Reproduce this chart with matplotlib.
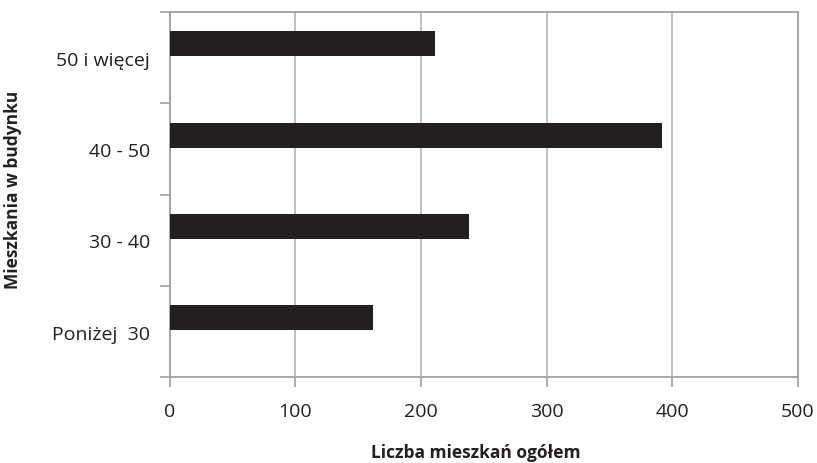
import numpy as np
from matplotlib import pyplot as plt
from matplotlib.ticker import FixedLocator

categories = ['Poniżej  30', '30 - 40', '40 - 50', '50 i więcej']
values = [162, 238, 392, 211]
x_ticks = [0, 100, 200, 300, 400, 500]

plt.rcParams['font.family'] = ['Open Sans', 'DejaVu Sans']

fig = plt.figure(figsize=(8.17, 4.64), dpi=100)
ax = fig.add_axes([0.2075, 0.185, 0.7693, 0.787])

pos = np.arange(len(categories))
# bars sit a little above the middle of each band, like the original
ax.barh(pos + 0.15, values, height=0.275, color='#231f20', zorder=3)

ax.set_xlim(0, 500)
ax.set_ylim(-0.5, len(categories) - 0.5)
ax.set_xticks(x_ticks)
ax.set_yticks(pos)
ax.set_yticklabels(categories)
ax.yaxis.set_minor_locator(FixedLocator(np.arange(-0.5, len(categories), 1.0)))

grid_col = '#b4b4b4'
axis_col = '#a0a0a0'
ax.grid(axis='x', color=grid_col, linewidth=1.2, zorder=0)
for side in ['left', 'bottom', 'top', 'right']:
    ax.spines[side].set_color(axis_col)
    ax.spines[side].set_linewidth(1.3)

ax.tick_params(axis='y', which='major', length=0, pad=14, labelsize=14, labelcolor='#231f20')
ax.tick_params(axis='y', which='minor', length=7, color=axis_col, width=1.2)
ax.tick_params(axis='x', which='major', length=7, color=axis_col, width=1.2, pad=11,
               labelsize=14, labelcolor='#231f20')

ax.set_xlabel('Liczba mieszkań ogółem', fontsize=12.5, fontweight='bold', color='#231f20')
ax.set_ylabel('Mieszkania w budynku', fontsize=12.5, fontweight='bold', color='#231f20')
ax.xaxis.set_label_coords(0.488, -0.181)
ax.yaxis.set_label_coords(-0.235, 0.515)

fig.savefig('out.png', dpi=100)
